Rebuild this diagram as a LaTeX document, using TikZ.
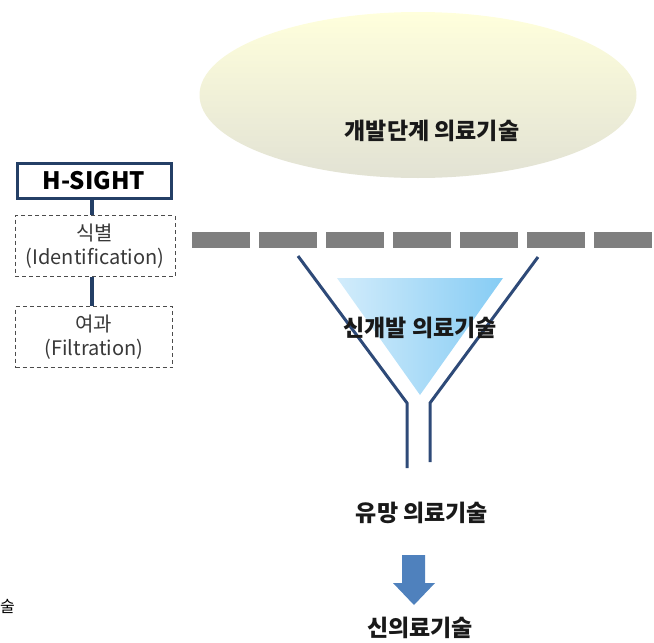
\documentclass[tikz,border=0pt]{standalone}
\usepackage{fontspec}
\setmainfont{Noto Sans CJK KR}
\usetikzlibrary{shapes.geometric,positioning}
\definecolor{navy}{HTML}{243F66}
\definecolor{funnelblue}{HTML}{2E4A78}
\definecolor{bargray}{HTML}{7F7F7F}
\definecolor{arrowblue}{HTML}{4F81BD}
\definecolor{cloudtop}{HTML}{FFFFDC}
\definecolor{cloudmid}{HTML}{FFFFAC}
\definecolor{cloudbot}{HTML}{E2E2D4}
\definecolor{trileft}{HTML}{D2ECFB}
\definecolor{triright}{HTML}{86CCF4}

\begin{document}
\begin{tikzpicture}[x=1pt,y=-1pt,
 box/.style={draw=navy,line width=3pt,minimum width=154pt,minimum height=35pt,inner sep=0pt,
   font=\fontsize{24}{26}\selectfont\bfseries},
 dbox/.style={draw=black!70,line width=0.9pt,dash pattern=on 4pt off 3pt,minimum width=160pt,
   minimum height=61pt,inner sep=0pt,align=center,text=black!78,font=\fontsize{20}{24}\selectfont},
 link/.style={navy,line width=4pt},
 funnel/.style={funnelblue,line width=3pt},
 label/.style={text=black!90,font=\fontsize{23}{25}\selectfont\bfseries}]
 \useasboundingbox (0,0) rectangle (654,643);

 % left column
 \node[box] (hsight) at (94,181) {H-SIGHT};
 \node[dbox] (ident) at (95,246) {식별\\(Identification)};
 \node[dbox,minimum width=157pt] (filt) at (94,337) {여과\\(Filtration)};
 \draw[link] (hsight.south -| 92,0) -- (ident.north -| 92,0);
 \draw[link] (ident.south -| 92,0) -- (filt.north -| 92,0);

 % cloud of technologies under development
 \node[ellipse,minimum width=437pt,minimum height=166pt,
   top color=cloudtop,middle color=cloudmid,bottom color=cloudbot] (cloud) at (418,95) {};
 \node[label] (devel) at (432,131) {개발단계 의료기술};

 % gray screen
 \coordinate (bar-l) at (192,240);
 \coordinate (bar-r) at (654,240);
 \draw[bargray,line width=16pt,dash pattern=on 58pt off 9pt] (bar-l) -- (bar-r);

 % funnel
 \coordinate (fl-top) at (298,256);
 \coordinate (fl-mid) at (407,403);
 \coordinate (fl-end) at (407,468);
 \coordinate (fr-top) at (538,257);
 \coordinate (fr-mid) at (430,403);
 \coordinate (fr-end) at (430,462);
 \shade[left color=trileft,right color=triright]
   (337,278) -- (503,278) -- (420,395) -- cycle;
 \draw[funnel] (fl-top) -- (fl-mid) -- (fl-end);
 \draw[funnel] (fr-top) -- (fr-mid) -- (fr-end);
 \node[label] (newdev) at (420,328) {신개발 의료기술};

 % results
 \node[label] (promising) at (422,513) {유망 의료기술};
 \fill[arrowblue] (402,555) -- (425,555) -- (425,583) -- (435,583) -- (414,605)
   -- (393,583) -- (402,583) -- cycle;
 \node[label] (newtech) at (420,628) {신의료기술};

 % small text at the left edge
 \node[anchor=west,inner sep=0pt,font=\fontsize{16}{18}\selectfont] (cut) at (0,606) {술};
\end{tikzpicture}
\end{document}
